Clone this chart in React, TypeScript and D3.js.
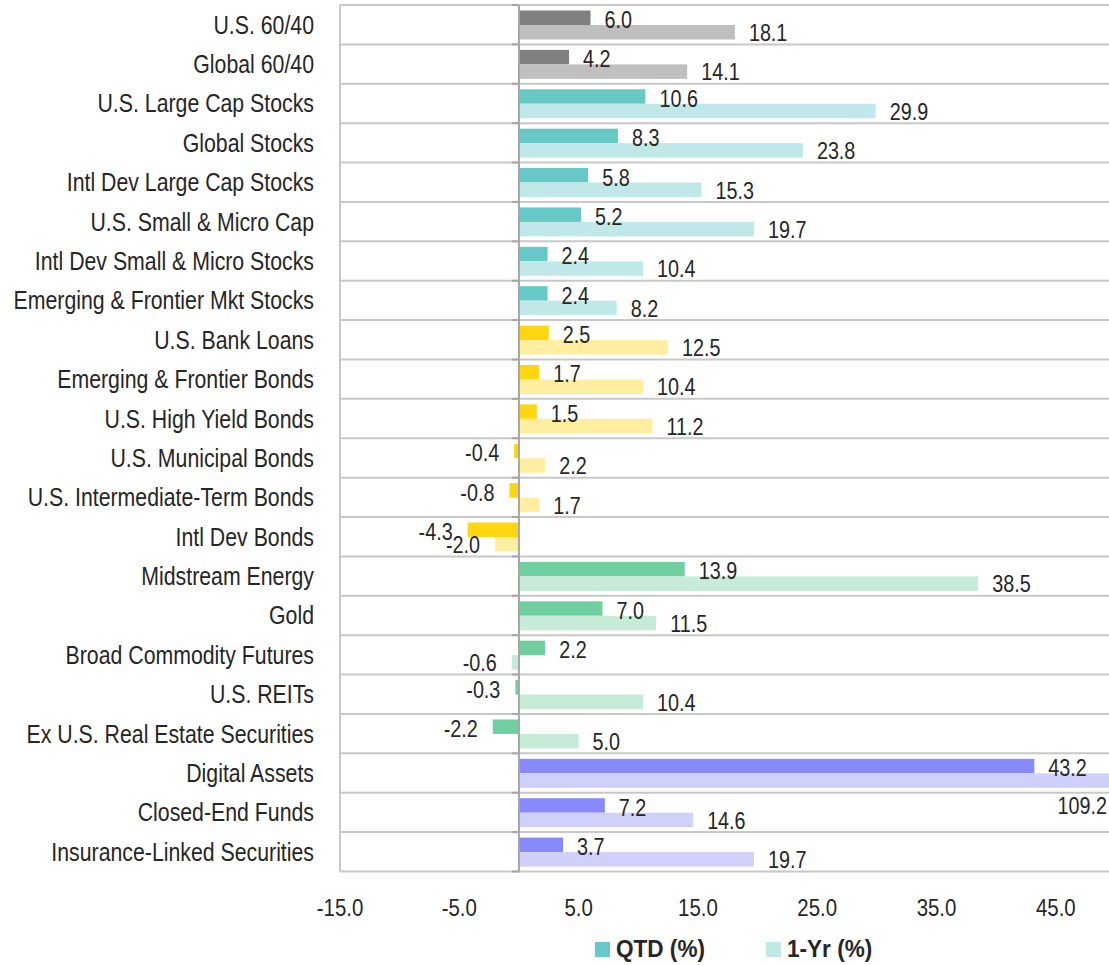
import React from "react";
import * as d3 from "d3";

const categories = [
  "U.S. 60/40",
  "Global 60/40",
  "U.S. Large Cap Stocks",
  "Global Stocks",
  "Intl Dev Large Cap Stocks",
  "U.S. Small & Micro Cap",
  "Intl Dev Small & Micro Stocks",
  "Emerging & Frontier Mkt Stocks",
  "U.S. Bank Loans",
  "Emerging & Frontier Bonds",
  "U.S. High Yield Bonds",
  "U.S. Municipal Bonds",
  "U.S. Intermediate-Term Bonds",
  "Intl Dev Bonds",
  "Midstream Energy",
  "Gold",
  "Broad Commodity Futures",
  "U.S. REITs",
  "Ex U.S. Real Estate Securities",
  "Digital Assets",
  "Closed-End Funds",
  "Insurance-Linked Securities",
];

const qtd = [6.0, 4.2, 10.6, 8.3, 5.8, 5.2, 2.4, 2.4, 2.5, 1.7, 1.5, -0.4, -0.8, -4.3, 13.9, 7.0, 2.2, -0.3, -2.2, 43.2, 7.2, 3.7];
const oneYr = [18.1, 14.1, 29.9, 23.8, 15.3, 19.7, 10.4, 8.2, 12.5, 10.4, 11.2, 2.2, 1.7, -2.0, 38.5, 11.5, -0.6, 10.4, 5.0, 109.2, 14.6, 19.7];

// asset group of each row -> colour pair
const groups = ["mix", "mix", "eq", "eq", "eq", "eq", "eq", "eq", "fi", "fi", "fi", "fi", "fi", "fi", "ra", "ra", "ra", "ra", "ra", "alt", "alt", "alt"];
const qtdColors: Record<string, string> = { mix: "#808080", eq: "#66c9c6", fi: "#ffd60f", ra: "#6fcf9f", alt: "#8888ff" };
const yrColors: Record<string, string> = { mix: "#bfbfbf", eq: "#c0e8e8", fi: "#ffee9f", ra: "#c6ebd8", alt: "#d0d0fc" };

const ticks = [-15, -5, 5, 15, 25, 35, 45];

const W = 1109;
const H = 965;
const FONT = "'Liberation Sans Narrow', 'Arial Narrow', 'Liberation Sans', Arial, sans-serif";

// no condensed face installed, so squeeze a regular one horizontally
function NText(props: { x: number; y: number; sx: number; anchor?: string; children: React.ReactNode }) {
  return (
    <text transform={`translate(${props.x},${props.y}) scale(${props.sx},1)`} textAnchor={props.anchor || "start"}>
      {props.children}
    </text>
  );
}

export default function App() {
  const plotLeft = 340;
  const plotTop = 5;
  const plotBottom = 871.5;

  const x = d3.scaleLinear().domain([-15, 50]).range([plotLeft, plotLeft + 65 * 11.93]);
  const y = d3.scaleBand<number>().domain(d3.range(categories.length)).range([plotTop, plotBottom]).padding(0);
  const inner = d3.scaleBand<string>().domain(["qtd", "yr"]).range([5.5, 34.5]).padding(0);
  const [xMin, xMax] = x.domain();
  const clampX = (v: number) => x(Math.max(xMin, Math.min(xMax, v)));
  const x0 = x(0);

  const fmt = (v: number) => d3.format(".1f")(v).replace("\u2212", "-");
  const VS = 0.86;

  const label = (v: number, rowTop: number, key: string) => {
    const base = key === "qtd" ? rowTop + 23 : rowTop + 36;
    if (v > xMax) {
      // label of a bar running off the plot sits under it, at the right edge
      return (
        <NText x={W - 2} y={rowTop + inner(key)! + inner.bandwidth() + 26} sx={VS} anchor="end">
          {fmt(v)}
        </NText>
      );
    }
    if (v < 0) {
      return (
        <NText x={x(v) - 15} y={base} sx={VS} anchor="end">
          {fmt(v)}
        </NText>
      );
    }
    return (
      <NText x={x(v) + 14} y={base} sx={VS}>
        {fmt(v)}
      </NText>
    );
  };

  return (
    <svg
      width={W}
      height={H}
      style={{ position: "absolute", left: 0, top: 0, background: "#fff" }}
      fontFamily={FONT}
    >
      {/* row grid lines */}
      {d3.range(categories.length + 1).map((i) => {
        const yy = plotTop + i * y.step();
        return (
          <g key={"g" + i}>
            <line x1={plotLeft} x2={W} y1={yy} y2={yy} stroke="#c8c8c8" strokeWidth={2} />
            <line x1={x0 - 7} x2={x0} y1={yy} y2={yy} stroke="#a6a6a6" strokeWidth={2} />
          </g>
        );
      })}
      <line x1={plotLeft} x2={plotLeft} y1={plotTop} y2={plotBottom} stroke="#c8c8c8" strokeWidth={2} />

      {/* bars */}
      {categories.map((c, i) => {
        const top = y(i)!;
        const g = groups[i];
        const vq = qtd[i];
        const vy = oneYr[i];
        return (
          <g key={c}>
            <rect
              x={Math.min(x0, clampX(vq))}
              y={top + inner("qtd")!}
              width={Math.abs(clampX(vq) - x0)}
              height={inner.bandwidth()}
              fill={qtdColors[g]}
            />
            <rect
              x={Math.min(x0, clampX(vy))}
              y={top + inner("yr")!}
              width={Math.abs(clampX(vy) - x0)}
              height={inner.bandwidth()}
              fill={yrColors[g]}
            />
          </g>
        );
      })}

      {/* zero axis */}
      <line x1={x0} x2={x0} y1={plotTop} y2={plotBottom} stroke="#a6a6a6" strokeWidth={2} />

      {/* value labels */}
      <g fontSize={23} fill="#262626">
        {categories.map((c, i) => (
          <g key={"l" + c}>
            {label(qtd[i], y(i)!, "qtd")}
            {label(oneYr[i], y(i)!, "yr")}
          </g>
        ))}
      </g>

      {/* category labels */}
      <g fontSize={25.5} fill="#262626">
        {categories.map((c, i) => (
          <NText key={"c" + c} x={314} y={y(i)! + y.bandwidth() / 2 + 9} sx={0.835} anchor="end">
            {c}
          </NText>
        ))}
      </g>

      {/* x tick labels */}
      <g fontSize={24} fill="#262626">
        {ticks.map((t) => (
          <NText key={"t" + t} x={x(t)} y={916} sx={0.85} anchor="middle">
            {fmt(t)}
          </NText>
        ))}
      </g>

      {/* legend */}
      <g fontSize={24} fontWeight="bold" fill="#262626">
        <rect x={595} y={942} width={15} height={15} fill={qtdColors.eq} />
        <NText x={616} y={957} sx={0.94}>QTD (%)</NText>
        <rect x={766} y={942} width={15} height={15} fill={yrColors.eq} />
        <NText x={787} y={957} sx={0.94}>1-Yr (%)</NText>
      </g>
    </svg>
  );
}
